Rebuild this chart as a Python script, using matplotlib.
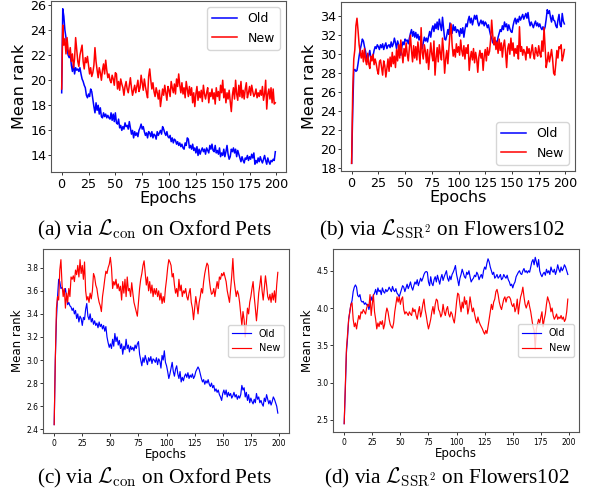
import matplotlib
matplotlib.use("Agg")
import matplotlib.pyplot as plt

epochs = list(range(200))

a_old = [19.0, 25.7, 25.1, 24.0, 23.4, 22.5, 22.0, 21.8, 22.1, 21.2,
         20.7, 21.3, 20.5, 21.0, 20.8, 20.9, 20.7, 21.0, 20.5, 20.1,
         19.9, 19.6, 19.4, 18.8, 18.6, 18.9, 18.7, 19.3, 19.1, 18.5,
         17.9, 17.4, 18.2, 17.6, 18.0, 17.3, 17.8, 17.1, 17.0, 17.4,
         17.1, 17.3, 17.0, 17.2, 17.0, 16.9, 17.4, 16.8, 17.3, 16.7,
         17.4, 16.6, 16.5, 16.9, 16.2, 16.4, 16.0, 16.3, 16.1, 16.6,
         16.3, 16.4, 16.1, 16.7, 16.2, 15.7, 16.0, 15.4, 15.9, 15.6,
         15.8, 15.5, 16.0, 16.2, 16.5, 16.1, 16.3, 15.9, 15.6, 15.8,
         15.4, 15.9, 15.8, 15.5, 15.9, 15.4, 15.7, 15.6, 15.3, 15.9,
         15.6, 15.8, 16.0, 15.7, 16.3, 16.1, 15.8, 15.6, 15.9, 15.5,
         15.4, 15.6, 15.1, 15.4, 15.0, 15.3, 15.2, 14.9, 15.1, 14.8,
         15.0, 14.7, 14.9, 14.6, 14.5, 15.0, 14.8, 15.4, 15.3, 14.6,
         14.8, 14.5, 14.9, 14.4, 14.6, 14.2, 14.7, 14.0, 14.5, 14.1,
         14.4, 14.6, 14.3, 14.5, 14.1, 14.6, 14.4, 14.2, 14.8, 14.5,
         14.9, 14.4, 14.3, 14.8, 14.2, 14.4, 14.1, 14.6, 13.9, 14.2,
         14.0, 14.5, 13.9, 14.3, 14.8, 14.1, 13.7, 13.9, 14.5, 14.3,
         14.6, 14.2, 14.5, 13.9, 14.4, 14.1, 13.8, 13.5, 13.9, 13.6,
         13.4, 13.8, 13.7, 14.0, 13.6, 13.9, 13.7, 14.1, 13.8, 14.2,
         13.3, 13.6, 13.4, 13.8, 13.5, 13.9, 13.6, 13.4, 13.7, 14.0,
         13.6, 13.3, 13.8, 13.5, 13.3, 13.6, 13.5, 13.7, 13.6, 14.3]

a_new = [19.3, 24.4, 22.8, 23.3, 22.1, 23.4, 22.4, 22.0, 22.6, 21.5,
         22.1, 21.0, 21.7, 23.4, 22.4, 21.5, 21.1, 22.0, 22.4, 22.8,
         21.5, 20.9, 21.8, 21.4, 21.9, 21.2, 20.5, 21.0, 20.3, 20.6,
         21.2, 22.6, 21.5, 20.8, 20.2, 21.0, 20.6, 20.0, 20.8, 21.3,
         20.5, 21.6, 20.8, 20.2, 20.5, 20.0, 19.8, 20.4, 20.1, 19.6,
         20.6, 20.5, 19.3, 19.9, 19.2, 20.1, 19.7, 19.4, 18.8, 19.5,
         19.9, 19.3, 19.0, 19.6, 20.2, 19.4, 18.8, 19.2, 19.6, 19.0,
         19.5, 20.0, 19.1, 19.4, 20.4, 19.8, 19.2, 20.1, 19.5, 19.0,
         18.6, 20.3, 20.9, 20.0, 19.3, 19.8, 19.1, 18.7, 19.4, 19.0,
         18.5, 19.2, 17.9, 18.6, 19.3, 18.8, 19.6, 19.0, 18.4, 19.5,
         19.2, 18.7, 19.9, 19.4, 19.0, 19.7, 18.9, 20.1, 19.5, 20.5,
         19.6, 19.0, 19.8, 18.9, 19.4, 18.6, 19.9, 19.3, 18.7, 19.5,
         18.8, 19.4, 18.2, 19.0, 17.9, 18.9, 19.5, 18.4, 19.1, 18.6,
         19.2, 18.3, 19.6, 18.9, 18.5, 19.0, 19.4, 18.2, 19.0, 18.7,
         19.3, 18.5, 19.0, 18.1, 19.4, 18.7, 19.1, 18.4, 19.6, 19.0,
         20.0, 18.6, 19.3, 18.2, 19.0, 18.5, 19.2, 18.3, 17.5, 18.8,
         19.4, 18.5, 20.0, 18.9, 18.4, 19.6, 18.7, 19.9, 18.6, 19.2,
         18.5, 19.3, 19.8, 18.6, 19.0, 19.5, 18.8, 19.6, 19.1, 18.7,
         18.9, 19.3, 18.6, 19.0, 18.7, 19.2, 18.8, 19.5, 18.4, 18.9,
         20.0, 17.7, 18.9, 19.3, 18.5, 19.4, 18.2, 19.3, 18.1, 18.2]

b_old = [18.5, 24.0, 28.3, 28.4, 28.2, 28.3, 29.0, 29.8, 30.5, 31.0,
         31.6, 31.4, 30.8, 30.3, 29.6, 29.2, 29.9, 30.4, 29.6, 29.7,
         29.8, 30.4, 30.8, 30.6, 31.0, 30.8, 30.5, 31.0, 30.7, 31.1,
         30.5, 30.9, 31.2, 30.6, 30.9, 31.0, 30.7, 31.3, 30.8, 31.1,
         31.7, 31.2, 30.6, 31.4, 31.0, 30.5, 29.9, 30.8, 31.3, 31.0,
         31.6, 31.4, 31.5, 31.1, 31.7, 32.2, 32.6, 31.9, 32.4, 31.8,
         32.3, 31.7, 32.1, 31.5, 31.9, 31.2, 30.6, 31.2, 31.8, 31.4,
         31.7, 31.3, 31.9, 32.4, 31.8, 32.6, 33.0, 32.4, 33.2, 32.7,
         33.4, 32.6, 33.7, 33.1, 32.5, 33.9, 32.8, 31.6, 31.5, 32.0,
         32.6, 32.1, 33.3, 32.7, 32.2, 33.1, 32.5, 32.9, 32.3, 32.6,
         32.5, 31.9, 32.7, 32.2, 32.8, 31.8, 32.6, 33.2, 32.9, 33.6,
         34.0, 33.3, 33.8, 33.1, 33.6, 34.1, 33.7, 34.1, 33.4, 33.0,
         33.3, 33.6, 33.2, 33.5, 33.0, 33.4, 33.2, 32.8, 33.1, 32.5,
         32.0, 31.7, 31.2, 31.5, 31.0, 31.4, 31.1, 31.8, 32.2, 32.6,
         32.4, 33.0, 32.6, 33.4, 32.9, 33.2, 32.5, 33.1, 32.7, 32.4,
         32.3, 33.0, 33.5, 33.8, 33.2, 33.7, 33.4, 34.0, 33.6, 33.9,
         34.2, 33.7, 34.0, 34.3, 33.8, 34.4, 33.5, 33.0, 33.4, 33.1,
         32.8, 33.2, 33.5, 33.0, 33.3, 32.9, 33.2, 32.8, 32.6, 32.9,
         32.5, 32.9, 33.7, 34.7, 34.3, 34.6, 33.9, 33.4, 34.1, 33.6,
         33.5, 33.0, 32.8, 33.6, 34.2, 33.1, 32.9, 34.3, 33.5, 33.2]

b_new = [18.5, 26.0, 29.5, 30.5, 33.0, 33.8, 32.5, 31.0, 30.2, 29.6,
         30.4, 29.2, 30.6, 29.4, 28.9, 30.1, 29.0, 28.5, 29.8, 29.3,
         30.0, 28.9, 29.5, 29.0, 28.3, 27.9, 29.2, 29.4, 28.6, 27.8,
         29.3, 28.8, 27.6, 28.5, 29.5, 28.2, 29.7, 28.7, 30.2, 29.0,
         29.8, 28.6, 30.5, 29.3, 31.0, 29.6, 31.5, 30.2, 29.1, 30.6,
         29.8, 31.2, 30.0, 29.3, 30.7, 32.0, 30.4, 29.2, 30.9, 29.6,
         30.8, 29.4, 31.3, 30.1, 29.0, 32.8, 30.2, 29.5, 31.0, 30.3,
         29.1, 30.5, 28.4, 29.8, 31.2, 30.0, 29.3, 31.4, 27.8, 29.6,
         30.7, 29.2, 31.0, 30.1, 29.4, 31.7, 30.3, 28.0, 29.5, 30.4,
         29.0, 30.6, 32.2, 33.2, 31.0, 29.8, 30.5, 29.7, 31.1, 30.2,
         30.8, 29.9, 31.5, 30.4, 29.8, 30.9, 29.5, 30.7, 30.1, 31.0,
         28.3, 29.6, 30.3, 29.4, 30.6, 29.1, 30.2, 29.5, 28.1, 29.7,
         30.4, 29.6, 30.1, 28.3, 29.8, 30.5, 29.3, 30.7, 29.9, 30.3,
         31.5, 33.6, 32.0, 31.0, 31.8, 30.5, 31.3, 30.1, 31.6, 30.4,
         31.2, 29.7, 30.9, 31.5, 30.2, 28.6, 30.6, 31.1, 30.0, 31.7,
         30.4, 31.2, 29.8, 30.6, 30.1, 30.9, 29.5, 32.9, 30.3, 30.8,
         29.9, 30.5, 30.2, 29.4, 30.8, 30.1, 30.6, 29.6, 30.3, 31.0,
         30.0, 29.5, 30.7, 30.2, 29.8, 30.9, 30.1, 29.7, 31.4, 30.3,
         32.8, 30.6, 28.6, 29.3, 30.2, 29.2, 29.8, 30.5, 29.5, 28.0,
         27.8, 29.0, 30.4, 29.6, 30.8, 30.6, 31.0, 29.3, 29.8, 30.5]

c_old = [2.44, 3.00, 3.35, 3.55, 3.70, 3.68, 3.62, 3.63, 3.60, 3.58,
         3.62, 3.55, 3.48, 3.50, 3.47, 3.46, 3.43, 3.45, 3.40, 3.43,
         3.36, 3.40, 3.33, 3.38, 3.36, 3.30, 3.37, 3.35, 3.44, 3.49,
         3.38, 3.35, 3.40, 3.33, 3.36, 3.31, 3.34, 3.30, 3.32, 3.28,
         3.33, 3.29, 3.31, 3.27, 3.30, 3.25, 3.29, 3.20, 3.15, 3.11,
         3.14, 3.10, 3.18, 3.12, 3.23, 3.16, 3.20, 3.13, 3.17, 3.10,
         3.14, 3.05, 3.12, 3.09, 3.18, 3.10, 3.13, 3.07, 3.12, 3.09,
         3.11, 3.08, 3.13, 3.10, 3.14, 3.16, 3.05, 3.00, 2.95, 3.02,
         2.98, 3.04, 3.00, 2.96, 3.02, 2.99, 3.03, 2.97, 3.01, 3.00,
         2.98, 3.02, 2.96, 3.01, 2.99, 2.93, 3.04, 3.00, 3.08, 2.98,
         2.95, 2.90, 2.84, 2.88, 2.93, 2.98, 2.90, 2.86, 2.92, 2.95,
         2.88, 2.84, 2.90, 2.81, 2.85, 2.82, 2.86, 2.88, 2.85, 2.89,
         2.84, 2.87, 2.85, 2.88, 2.84, 2.86, 2.90, 2.92, 2.94, 2.92,
         2.88, 2.84, 2.81, 2.83, 2.79, 2.82, 2.80, 2.83, 2.79, 2.77,
         2.80, 2.76, 2.78, 2.73, 2.75, 2.72, 2.74, 2.70, 2.68, 2.65,
         2.71, 2.74, 2.70, 2.74, 2.68, 2.72, 2.69, 2.71, 2.67, 2.69,
         2.72, 2.68, 2.70, 2.66, 2.69, 2.67, 2.70, 2.78, 2.74, 2.76,
         2.68, 2.72, 2.65, 2.70, 2.63, 2.67, 2.64, 2.62, 2.66, 2.63,
         2.71, 2.66, 2.68, 2.63, 2.65, 2.62, 2.60, 2.67, 2.64, 2.70,
         2.66, 2.62, 2.65, 2.61, 2.64, 2.68, 2.66, 2.63, 2.60, 2.54]

c_new = [2.44, 3.00, 3.45, 3.55, 3.52, 3.78, 3.87, 3.65, 3.55, 3.62,
         3.45, 3.58, 3.50, 3.62, 3.55, 3.72, 3.70, 3.73, 3.68, 3.78,
         3.74, 3.82, 3.72, 3.87, 3.75, 3.82, 3.70, 3.85, 3.60, 3.52,
         3.55, 3.50, 3.58, 3.53, 3.60, 3.75, 3.72, 3.65, 3.62, 3.55,
         3.50, 3.47, 3.42, 3.55, 3.62, 3.70, 3.77, 3.75, 3.80, 3.83,
         3.89, 3.80, 3.62, 3.68, 3.65, 3.70, 3.62, 3.66, 3.60, 3.64,
         3.52, 3.68, 3.58, 3.70, 3.55, 3.72, 3.60, 3.62, 3.55, 3.67,
         3.58, 3.50, 3.46, 3.42, 3.38, 3.50, 3.62, 3.70, 3.75, 3.82,
         3.86, 3.75, 3.65, 3.72, 3.60, 3.68, 3.58, 3.65, 3.55, 3.62,
         3.57, 3.62, 3.55, 3.60, 3.52, 3.58, 3.49, 3.55, 3.50, 3.62,
         3.70, 3.80, 3.87, 3.85, 3.82, 3.72, 3.75, 3.65, 3.58, 3.62,
         3.55, 3.70, 3.60, 3.65, 3.55, 3.60, 3.58, 3.62, 3.55, 3.52,
         3.58, 3.62, 3.50, 3.45, 3.35, 3.45, 3.55, 3.48, 3.40, 3.50,
         3.55, 3.62, 3.58, 3.68, 3.75, 3.80, 3.84, 3.82, 3.70, 3.62,
         3.57, 3.58, 3.62, 3.55, 3.62, 3.68, 3.62, 3.72, 3.70, 3.75,
         3.73, 3.76, 3.72, 3.68, 3.60, 3.55, 3.50, 3.62, 3.73, 3.88,
         3.70, 3.62, 3.55, 3.60, 3.57, 3.50, 3.40, 3.30, 3.42, 3.35,
         3.20, 3.32, 3.45, 3.40, 3.50, 3.55, 3.62, 3.68, 3.55, 3.45,
         3.34, 3.45, 3.58, 3.65, 3.73, 3.60, 3.52, 3.62, 3.73, 3.65,
         3.55, 3.52, 3.57, 3.50, 3.58, 3.52, 3.60, 3.50, 3.65, 3.76]

d_old = [2.45, 2.90, 3.40, 3.60, 3.85, 3.95, 4.05, 4.10, 4.22, 4.28,
         4.31, 4.28, 4.17, 4.15, 4.18, 4.10, 4.08, 4.09, 4.05, 4.07,
         4.04, 4.05, 3.98, 4.05, 4.15, 4.10, 4.17, 4.20, 4.25, 4.18,
         4.27, 4.22, 4.24, 4.18, 4.27, 4.22, 4.20, 4.25, 4.22, 4.24,
         4.28, 4.25, 4.22, 4.29, 4.24, 4.22, 4.26, 4.20, 4.18, 4.15,
         4.20, 4.25, 4.30, 4.28, 4.22, 4.27, 4.32, 4.26, 4.30, 4.35,
         4.28, 4.24, 4.30, 4.35, 4.32, 4.38, 4.30, 4.35, 4.40, 4.36,
         4.40, 4.45, 4.48, 4.49, 4.48, 4.35, 4.30, 4.42, 4.33, 4.30,
         4.38, 4.42, 4.35, 4.44, 4.38, 4.32, 4.40, 4.45, 4.37, 4.42,
         4.46, 4.50, 4.40, 4.36, 4.43, 4.38, 4.45, 4.48, 4.52, 4.57,
         4.45, 4.38, 4.30, 4.40, 4.45, 4.52, 4.47, 4.42, 4.40, 4.48,
         4.45, 4.50, 4.42, 4.35, 4.38, 4.40, 4.44, 4.42, 4.48, 4.45,
         4.38, 4.42, 4.45, 4.40, 4.50, 4.55, 4.52, 4.60, 4.66, 4.62,
         4.55, 4.50, 4.45, 4.48, 4.40, 4.42, 4.45, 4.40, 4.42, 4.45,
         4.38, 4.40, 4.45, 4.42, 4.40, 4.44, 4.38, 4.35, 4.30, 4.32,
         4.27, 4.32, 4.35, 4.42, 4.45, 4.48, 4.50, 4.46, 4.45, 4.50,
         4.53, 4.48, 4.50, 4.47, 4.50, 4.48, 4.55, 4.62, 4.65, 4.58,
         4.68, 4.62, 4.55, 4.65, 4.50, 4.45, 4.42, 4.46, 4.48, 4.44,
         4.52, 4.47, 4.50, 4.45, 4.55, 4.50, 4.48, 4.52, 4.45, 4.50,
         4.58, 4.52, 4.48, 4.55, 4.50, 4.53, 4.58, 4.55, 4.50, 4.45]

d_new = [2.45, 2.95, 3.45, 3.65, 3.85, 3.95, 4.05, 4.07, 3.85, 3.75,
         3.80, 3.72, 3.82, 3.90, 3.85, 3.95, 3.93, 3.98, 3.95, 3.92,
         4.00, 4.05, 4.02, 4.18, 3.90, 4.05, 4.18, 3.95, 3.85, 3.72,
         3.80, 3.75, 3.82, 3.78, 3.83, 3.72, 3.78, 3.92, 4.00, 3.95,
         3.85, 3.78, 3.75, 3.73, 3.80, 3.95, 4.05, 4.15, 4.08, 4.15,
         4.05, 4.12, 4.15, 3.98, 3.92, 3.95, 3.93, 3.90, 3.95, 3.92,
         3.90, 4.00, 3.95, 3.98, 3.90, 3.85, 3.95, 4.02, 3.88, 3.95,
         4.05, 4.12, 3.98, 3.90, 3.80, 3.72, 3.78, 3.85, 3.95, 4.02,
         3.92, 4.05, 4.12, 4.10, 3.98, 3.95, 3.88, 3.92, 4.05, 3.95,
         3.90, 3.98, 4.02, 3.92, 3.88, 3.95, 3.92, 3.85, 3.80, 3.92,
         4.08, 4.20, 4.18, 4.05, 3.95, 4.08, 4.00, 4.15, 4.05, 4.10,
         3.92, 4.00, 4.15, 4.05, 3.95, 4.00, 3.92, 3.85, 3.80, 3.88,
         3.82, 3.78, 3.75, 3.72, 3.68, 3.65, 3.70, 3.66, 3.75, 3.85,
         3.95, 4.05, 3.98, 4.08, 4.12, 4.22, 4.25, 4.18, 4.08, 4.02,
         3.98, 4.05, 4.12, 4.15, 4.08, 4.14, 4.15, 4.15, 4.12, 4.05,
         4.02, 4.06, 3.95, 4.00, 4.12, 3.92, 4.05, 4.15, 4.20, 4.28,
         4.15, 4.05, 4.00, 4.05, 4.10, 4.02, 3.95, 3.85, 3.75, 3.70,
         3.45, 3.72, 3.78, 3.85, 3.80, 3.88, 3.95, 3.75, 3.85, 3.92,
         4.05, 4.15, 4.10, 4.05, 3.95, 4.00, 3.90, 3.85, 3.88, 3.92,
         3.85, 3.88, 3.86, 3.90, 3.85, 3.88, 3.82, 3.85, 3.95, 4.12]

series_labels = ["Old", "New"]
x_ticks = [0, 25, 50, 75, 100, 125, 150, 175, 200]
a_yticks = [14, 16, 18, 20, 22, 24, 26]
b_yticks = [18, 20, 22, 24, 26, 28, 30, 32, 34]
c_yticks = [2.4, 2.6, 2.8, 3.0, 3.2, 3.4, 3.6, 3.8]
d_yticks = [2.5, 3.0, 3.5, 4.0, 4.5]
captions = [r"(a) via $\mathcal{L}_{\rm con}$ on Oxford Pets",
            r"(b) via $\mathcal{L}_{\rm SSR^2}$ on Flowers102",
            r"(c) via $\mathcal{L}_{\rm con}$ on Oxford Pets",
            r"(d) via $\mathcal{L}_{\rm SSR^2}$ on Flowers102"]

W, H = 589, 497
fig = plt.figure(figsize=(W / 100, H / 100), dpi=100)


def rect(l, r, t, b):
    return [l / W, 1 - b / H, (r - l) / W, (b - t) / H]


panels = [
    dict(rect=rect(51, 286, 1, 172), old=a_old, new=a_new, yt=a_yticks,
         fmt="%d", tick=9.2, lab=11.5, leg=9.0, lw=1.1, loc="upper right"),
    dict(rect=rect(341, 575, 2, 171), old=b_old, new=b_new, yt=b_yticks,
         fmt="%d", tick=9.2, lab=11.5, leg=9.0, lw=1.1, loc="lower right"),
    dict(rect=rect(43, 289, 249, 433), old=c_old, new=c_new, yt=c_yticks,
         fmt="%.1f", tick=5.5, lab=8.5, leg=7.0, lw=0.85, loc="center right"),
    dict(rect=rect(333, 579, 249, 432), old=d_old, new=d_new, yt=d_yticks,
         fmt="%.1f", tick=5.5, lab=8.5, leg=7.0, lw=0.85, loc="center right"),
]

for p in panels:
    ax = fig.add_axes(p["rect"])
    ax.plot(epochs, p["old"], color="blue", lw=p["lw"], label=series_labels[0])
    ax.plot(epochs, p["new"], color="red", lw=p["lw"], label=series_labels[1])
    ax.set_xticks(x_ticks)
    ax.set_yticks(p["yt"])
    ax.yaxis.set_major_formatter(matplotlib.ticker.FormatStrFormatter(p["fmt"]))
    ax.tick_params(labelsize=p["tick"], length=2.5, width=0.7, color="#333333")
    ax.tick_params(axis="x", pad=1.5)
    ax.tick_params(axis="y", pad=0.8)
    for s in ax.spines.values():
        s.set_color("#555555")
        s.set_linewidth(0.8)
    ax.set_xlabel("Epochs", fontsize=p["lab"], labelpad=0)
    ax.set_ylabel("Mean rank", fontsize=p["lab"], labelpad=2)
    ax.legend(loc=p["loc"], fontsize=p["leg"], handlelength=2.0)

cap_pos = [(154, 230), (442, 230), (154, 478), (447, 478)]
for (cx, cy), txt in zip(cap_pos, captions):
    fig.text(cx / W, 1 - cy / H, txt, ha="center", va="center",
             fontsize=15.3, family="Liberation Serif", math_fontfamily="cm")

fig.savefig("out.png", dpi=100)
